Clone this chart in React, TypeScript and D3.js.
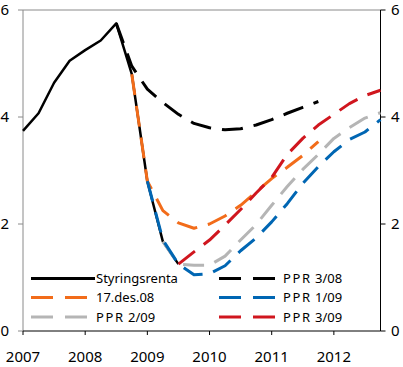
import React, { useEffect, useRef } from 'react';
import * as d3 from 'd3';

// quarterly time points (decimal years)
const actualT = [2007, 2007.25, 2007.5, 2007.75, 2008, 2008.25, 2008.5, 2008.75, 2009, 2009.25, 2009.5];
const styringsrenta = [3.74, 4.07, 4.64, 5.05, 5.25, 5.43, 5.75, 4.8, 2.8, 1.67, 1.25];

const ppr308T = [2008.5, 2008.75, 2009, 2009.25, 2009.5, 2009.75, 2010, 2010.25, 2010.5, 2010.75, 2011, 2011.25, 2011.5, 2011.75];
const ppr308 = [5.75, 4.95, 4.52, 4.27, 4.05, 3.88, 3.8, 3.76, 3.78, 3.85, 3.95, 4.07, 4.18, 4.29];

const des08T = [2008.75, 2009, 2009.25, 2009.5, 2009.75, 2010, 2010.25, 2010.5, 2010.75, 2011, 2011.25, 2011.5, 2011.75];
const des08 = [4.8, 2.8, 2.25, 2.02, 1.92, 2.0, 2.15, 2.35, 2.6, 2.85, 3.06, 3.28, 3.54];

const ppr109T = [2009, 2009.25, 2009.5, 2009.75, 2010, 2010.25, 2010.5, 2010.75, 2011, 2011.25, 2011.5, 2011.75, 2012, 2012.25, 2012.5, 2012.75];
const ppr109 = [2.8, 1.7, 1.25, 1.05, 1.07, 1.22, 1.5, 1.74, 2.04, 2.38, 2.76, 3.07, 3.35, 3.58, 3.72, 3.95];

const ppr209T = [2009.25, 2009.5, 2009.75, 2010, 2010.25, 2010.5, 2010.75, 2011, 2011.25, 2011.5, 2011.75, 2012, 2012.25, 2012.5, 2012.75];
const ppr209 = [1.67, 1.25, 1.23, 1.23, 1.4, 1.7, 1.99, 2.35, 2.7, 3.02, 3.3, 3.6, 3.8, 3.98, 4.08];

const ppr309T = [2009.5, 2009.75, 2010, 2010.25, 2010.5, 2010.75, 2011, 2011.25, 2011.5, 2011.75, 2012, 2012.25, 2012.5, 2012.75];
const ppr309 = [1.25, 1.48, 1.7, 1.98, 2.27, 2.58, 2.87, 3.3, 3.6, 3.85, 4.05, 4.25, 4.4, 4.5];

const yearTicks = [2007, 2008, 2009, 2010, 2011, 2012];
const valueTicks = [0, 2, 4, 6];

const series = [
  { label: 'Styringsrenta', t: actualT, v: styringsrenta, color: '#000000', dashed: false },
  { label: 'PPR 3/08', t: ppr308T, v: ppr308, color: '#000000', dashed: true },
  { label: '17.des.08', t: des08T, v: des08, color: '#f26c1a', dashed: true },
  { label: 'PPR 2/09', t: ppr209T, v: ppr209, color: '#b5b5b5', dashed: true },
  { label: 'PPR 1/09', t: ppr109T, v: ppr109, color: '#0066b3', dashed: true },
  { label: 'PPR 3/09', t: ppr309T, v: ppr309, color: '#d0161e', dashed: true },
];

const legendLeft = ['Styringsrenta', '17.des.08', 'PPR 2/09'];
const legendRight = ['PPR 3/08', 'PPR 1/09', 'PPR 3/09'];

const W = 403;
const H = 367;
const font = '"Noto Sans", "Open Sans", sans-serif';

const App: React.FC = () => {
  const ref = useRef<SVGSVGElement>(null);

  useEffect(() => {
    document.body.style.margin = '0';
    const svg = d3.select(ref.current);
    svg.html('');

    const x = d3.scaleLinear().domain([2007, 2012.75]).range([23, 380.5]);
    const y = d3.scaleLinear().domain([0, 6]).range([331, 10]);
    const [x0, x1] = x.range();
    const [y0, y1] = y.range();

    // frame
    svg.append('line').attr('x1', x0).attr('x2', x1).attr('y1', y1).attr('y2', y1)
      .attr('stroke', '#8a8a8a').attr('stroke-width', 1);
    svg.append('line').attr('x1', x0).attr('x2', x0).attr('y1', y1).attr('y2', y0)
      .attr('stroke', '#8a8a8a').attr('stroke-width', 1);
    svg.append('line').attr('x1', x1).attr('x2', x1).attr('y1', y1).attr('y2', y0)
      .attr('stroke', '#000').attr('stroke-width', 1);
    svg.append('line').attr('x1', x0).attr('x2', x1).attr('y1', y0).attr('y2', y0)
      .attr('stroke', '#000').attr('stroke-width', 1);

    // y ticks, both sides
    valueTicks.forEach(v => {
      svg.append('line').attr('x1', x0 - 5).attr('x2', x0).attr('y1', y(v)).attr('y2', y(v))
        .attr('stroke', '#8a8a8a');
      svg.append('line').attr('x1', x1).attr('x2', x1 + 5).attr('y1', y(v)).attr('y2', y(v))
        .attr('stroke', '#000');
      svg.append('text').attr('x', 9).attr('y', y(v)).attr('dy', '0.36em')
        .attr('text-anchor', 'end').style('font-family', font).style('font-size', '15px').text(v);
      svg.append('text').attr('x', 391).attr('y', y(v)).attr('dy', '0.36em')
        .attr('text-anchor', 'start').style('font-family', font).style('font-size', '15px').text(v);
    });

    // x ticks
    yearTicks.forEach(t => {
      svg.append('line').attr('x1', x(t)).attr('x2', x(t)).attr('y1', y0).attr('y2', y0 + 4)
        .attr('stroke', '#000');
      svg.append('text').attr('x', x(t)).attr('y', 362)
        .attr('text-anchor', 'middle').style('font-family', font).style('font-size', '15px').text(t);
    });

    const line = d3.line<[number, number]>().x(d => x(d[0])).y(d => y(d[1]));

    series.forEach(s => {
      const pts = s.t.map((t, i) => [t, s.v[i]] as [number, number]);
      svg.append('path')
        .attr('d', line(pts))
        .attr('fill', 'none')
        .attr('stroke', s.color)
        .attr('stroke-width', s.dashed ? 3 : 2.5)
        .attr('stroke-dasharray', s.dashed ? '21,11' : null)
        .attr('stroke-linejoin', 'round');
    });

    // legend
    const rowY = [278.5, 297.5, 317];
    const drawLegend = (labels: string[], lx: number, tx: number) => {
      labels.forEach((label, i) => {
        const s = series.find(d => d.label === label)!;
        svg.append('line')
          .attr('x1', lx).attr('x2', s.dashed ? lx + 56 : lx + 64)
          .attr('y1', rowY[i]).attr('y2', rowY[i])
          .attr('stroke', s.color).attr('stroke-width', 3)
          .attr('stroke-dasharray', s.dashed ? '22,12' : null);
        const txt = svg.append('text').attr('x', tx).attr('y', rowY[i]).attr('dy', '0.36em')
          .style('font-family', font).style('font-size', '13px');
        if (label.startsWith('PPR')) {
          txt.append('tspan').style('letter-spacing', '1.6px').text('PPR');
          txt.append('tspan').text(label.slice(3));
        } else {
          txt.text(label);
        }
      });
    };
    drawLegend(legendLeft, 31, 96);
    drawLegend(legendRight, 219, 283);
  }, []);

  return <svg ref={ref} width={W} height={H} style={{ display: 'block' }}></svg>;
};

export default App;
